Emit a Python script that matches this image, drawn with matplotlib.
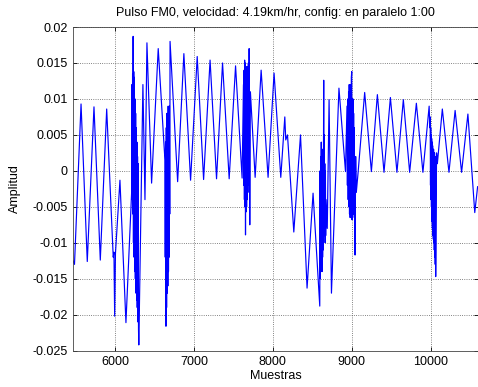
import matplotlib

matplotlib.use("Agg")
import matplotlib.pyplot as plt
from matplotlib.ticker import FormatStrFormatter, FuncFormatter

# sample index / amplitude pairs (extrema + dense bursts)
muestras = [
    5468, 5487, 5570, 5649, 5734, 5814, 5895, 5978, 5987, 5996, 6006, 6063, 6139,
    # burst 1
    6211, 6215, 6219, 6223, 6227, 6230, 6234, 6238, 6242, 6246, 6250, 6254, 6258, 6262, 6266,
    6270, 6274, 6278, 6282, 6286, 6290, 6294, 6298, 6302,
    6354, 6380, 6405, 6464, 6548,
    # burst 2
    6633, 6637, 6641, 6646, 6650, 6654, 6658, 6662, 6666, 6670, 6674, 6678, 6682, 6686, 6690, 6694, 6698,
    6794, 6873, 6958, 7042, 7123, 7205, 7287, 7363, 7447, 7528, 7611,
    # burst 3
    7628, 7632, 7636, 7640, 7643, 7647, 7650, 7654, 7657, 7661, 7664, 7668, 7671, 7675, 7678,
    7684, 7690, 7695, 7700, 7708, 7716,
    7776, 7852, 7940, 8016, 8101, 8152, 8164, 8186, 8266, 8351, 8434, 8510, 8595,
    # burst 4
    8599, 8603, 8607, 8610, 8614, 8617, 8621, 8624, 8628, 8631, 8635, 8638, 8645, 8649, 8652,
    8656, 8659, 8663, 8666, 8670, 8674, 8690,
    8713, 8743, 8838, 8921,
    # burst 5
    8940, 8945, 8950, 8955, 8960, 8964, 8968, 8972, 8976, 8980, 8984, 8990, 8995, 9000, 9004,
    9008, 9012, 9016, 9020, 9024, 9028, 9032, 9037, 9042, 9050, 9058,
    9080, 9164, 9249, 9325, 9409, 9490, 9573, 9654, 9734, 9819, 9902, 9981,
    # burst 6
    9990, 9994, 9998, 10001, 10004, 10007, 10010, 10013, 10016, 10019, 10022, 10025, 10028,
    10031, 10034, 10037, 10040, 10043, 10046, 10049, 10052, 10055, 10058, 10061, 10064,
    10075, 10085, 10148, 10232, 10310, 10392, 10472, 10559, 10595,
]

amplitud = [
    -0.0125, -0.0130, 0.0093, -0.0126, 0.0089, -0.0124, 0.0086, -0.0120, -0.0113, -0.0202, -0.0115, -0.0013, -0.0211,
    -0.0030, 0.0120, -0.0040, 0.0135, -0.0060, 0.0187, -0.0100, 0.0138, -0.0120, 0.0130, -0.0140, 0.0100, -0.0150, 0.0080, -0.0170,
    0.0060, -0.0180, 0.0040, -0.0190, 0.0020, -0.0210, 0.0010, -0.0220, -0.0242,
    0.0120, -0.0040, 0.0178, -0.0017, 0.0170,
    0.0015, -0.0120, 0.0040, -0.0216, 0.0060, -0.0190, 0.0080, -0.0170, 0.0070, -0.0160, 0.0090, -0.0140, 0.0060, -0.0120, 0.0090, -0.0060, 0.0180,
    -0.0015, 0.0163, -0.0013, 0.0159, -0.0012, 0.0154, -0.0011, 0.0150, -0.0011, 0.0146, -0.0010,
    0.0120, -0.0020, 0.0140, -0.0040, 0.0154, -0.0050, 0.0150, -0.0089, 0.0130, -0.0057, 0.0140, -0.0050, 0.0145, -0.0040, 0.0140,
    -0.0030, 0.0150, -0.0020, 0.0170, -0.0075, 0.0110,
    -0.0009, 0.0140, -0.0009, 0.0136, -0.0009, 0.0075, 0.0043, 0.0050, -0.0085, 0.0050, -0.0163, -0.0031, -0.0188,
    0.0000, -0.0150, 0.0020, -0.0140, 0.0040, -0.0133, 0.0030, -0.0140, 0.0030, -0.0120, 0.0020, -0.0110, 0.0126, -0.0090, 0.0050,
    -0.0080, 0.0010, -0.0100, 0.0000, -0.0090, -0.0040, -0.0080,
    0.0099, -0.0170, 0.0115, -0.0001,
    0.0090, -0.0020, 0.0100, -0.0040, 0.0110, -0.0050, 0.0120, -0.0060, 0.0110, -0.0065, 0.0120, -0.0060, 0.0130, 0.0138, -0.0068,
    0.0100, -0.0065, 0.0100, -0.0060, 0.0080, -0.0055, 0.0060, -0.0060, -0.0117, 0.0020, -0.0030,
    -0.0003, 0.0109, -0.0001, 0.0106, -0.0002, 0.0102, -0.0002, 0.0099, -0.0002, 0.0094, -0.0002, 0.0090,
    0.0060, 0.0075, -0.0020, 0.0060, -0.0040, 0.0050, -0.0050, 0.0045, -0.0070, 0.0040, -0.0080, 0.0035, -0.0090,
    0.0030, -0.0095, 0.0030, -0.0100, 0.0025, -0.0110, 0.0025, -0.0120, 0.0020, -0.0130, 0.0020, -0.0147,
    0.0025, 0.0010, 0.0086, -0.0002, 0.0084, -0.0002, 0.0079, -0.0058, -0.0022,
]

x_ticks = [6000, 7000, 8000, 9000, 10000]
y_ticks = [-0.025, -0.02, -0.015, -0.01, -0.005, 0, 0.005, 0.01, 0.015, 0.02]

plt.rcParams.update({
    "font.family": ["Liberation Sans", "DejaVu Sans"],
    "font.size": 9,
})

fig = plt.figure(figsize=(4.78, 3.87), dpi=100)
ax = fig.add_axes([0.1527, 0.0938, 0.8473, 0.8364])

ax.plot(muestras, amplitud, color="#0000ff", lw=0.85)

ax.set_xlim(5468, 10600)
ax.set_ylim(-0.025, 0.02)
ax.set_xticks(x_ticks)
ax.set_yticks(y_ticks)
ax.yaxis.set_major_formatter(FuncFormatter(lambda v, _: "0" if abs(v) < 1e-12 else f"{v:g}"))
ax.xaxis.set_major_formatter(FormatStrFormatter("%d"))
ax.tick_params(direction="in", top=True, right=True, length=3, width=0.6, labelsize=9, pad=4)
ax.grid(True, color="#333333", linestyle=":", lw=0.6, alpha=0.8)
for s in ax.spines.values():
    s.set_linewidth(0.6)
    s.set_color("#444444")

ax.set_title("Pulso FM0, velocidad: 4.19km/hr, config: en paralelo 1:00", fontsize=9, pad=8)
ax.set_xlabel("Muestras", fontsize=9, labelpad=1)
ax.set_ylabel("Amplitud", fontsize=9, labelpad=8)

fig.savefig("out.png", dpi=100)
